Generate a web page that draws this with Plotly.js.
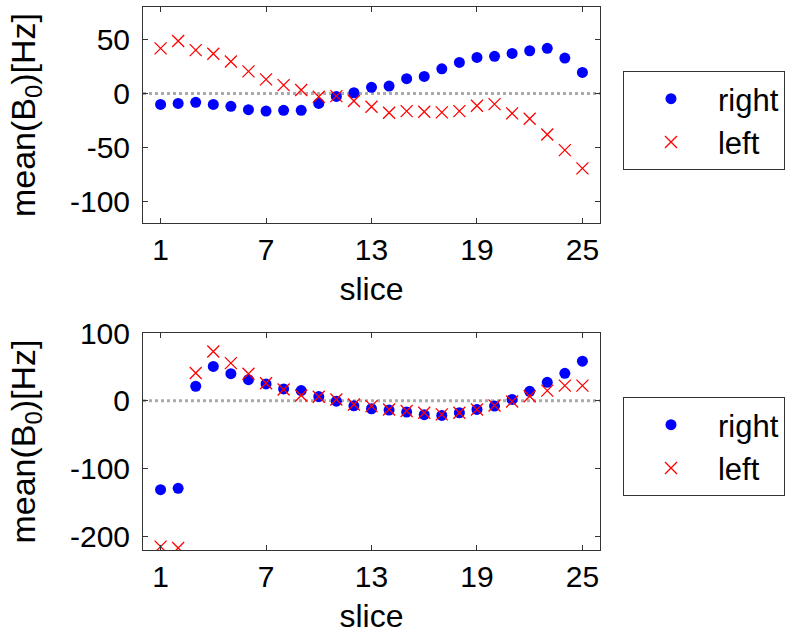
<!DOCTYPE html>
<html>
<head>
<meta charset="utf-8">
<script src="https://cdn.plot.ly/plotly-3.0.1.min.js"></script>
<style>html,body{margin:0;padding:0;background:#fff;}#chart{width:800px;height:635px;}</style>
</head>
<body>
<div id="chart"></div>
<script>
const slices = [1,2,3,4,5,6,7,8,9,10,11,12,13,14,15,16,17,18,19,20,21,22,23,24,25];
const topRight = [-10.2,-9.3,-8.3,-10.2,-12,-15.1,-16.4,-15.7,-15.7,-9.3,-2.8,0.6,5.6,6.8,13.6,15.7,22.8,28.7,33.3,34.3,37,39.5,41.7,32.7,19.4];
const topLeft = [41.7,48.5,40.1,36.7,29.6,20.4,13,7.7,3.1,-3.1,-2.5,-7.1,-12.3,-17.9,-16.4,-17,-17.6,-16.4,-11.4,-9.9,-18.5,-23.5,-38,-52.5,-69.4];
const botRight = [-131,-129,21.5,50.7,40,31.2,24.9,17.6,15.1,6.3,-0.5,-7.3,-11.7,-13.7,-16.6,-20.5,-21.5,-17.6,-12.7,-7.8,2,14.1,27.3,40.5,58.5];
const botLeft = [-215,-217,41,72.7,55.6,40,25.9,16.6,7.8,5.9,2,-5.4,-7.8,-12.7,-15.1,-17.6,-20,-17.6,-12.7,-6.8,-1,6.8,15.1,22.4,22.4];
const xTicks = [1,7,13,19,25];
const topYTicks = [-100,-50,0,50];
const botYTicks = [-200,-100,0,100];
const seriesNames = ['right','left'];

const FONT = 'Liberation Sans, Arial, sans-serif';
const dotMarker = {symbol:'circle', size:11, color:'#0000ff', line:{width:0}};
const xMarker = {symbol:'x-thin-open', size:12, color:'#ff0000', line:{width:1.3, color:'#ff0000'}};

const traces = [
  {x:slices, y:topRight, mode:'markers', name:seriesNames[0], marker:dotMarker, xaxis:'x', yaxis:'y', legend:'legend', cliponaxis:true},
  {x:slices, y:topLeft, mode:'markers', name:seriesNames[1], marker:xMarker, xaxis:'x', yaxis:'y', legend:'legend', cliponaxis:true},
  {x:slices, y:botRight, mode:'markers', name:seriesNames[0], marker:dotMarker, xaxis:'x2', yaxis:'y2', legend:'legend2', cliponaxis:true},
  {x:slices, y:botLeft, mode:'markers', name:seriesNames[1], marker:xMarker, xaxis:'x2', yaxis:'y2', legend:'legend2', cliponaxis:true}
];

function xax(anchor){
  return {anchor:anchor, range:[0,26], tickvals:xTicks, ticktext:xTicks.map(String), ticks:'inside', ticklen:5,
    tickcolor:'#333', showline:true, linecolor:'#333', linewidth:1, mirror:'ticks', showgrid:false, zeroline:false,
    tickfont:{family:FONT, size:30, color:'#000'},
    title:{text:'slice', font:{family:FONT, size:32, color:'#000'}, standoff:12}};
}
function yax(anchor, range, ticks, domain){
  return {anchor:anchor, domain:domain, range:range, tickvals:ticks, ticktext:ticks.map(String), ticks:'inside', ticklen:5,
    tickcolor:'#333', showline:true, linecolor:'#333', linewidth:1, mirror:'ticks', showgrid:false, zeroline:false,
    tickfont:{family:FONT, size:30, color:'#000'}, ticklabelstandoff:6,
    title:{text:'mean(B<sub>0</sub>)[Hz]', font:{family:FONT, size:34, color:'#000'}, standoff:24}};
}
const legendBase = {bgcolor:'#fff', bordercolor:'#333', borderwidth:1, font:{family:FONT, size:31, color:'#000'},
  xanchor:'left', yanchor:'top', itemwidth:84, tracegroupgap:0};

const layout = {
  width:800, height:635, paper_bgcolor:'#fff', plot_bgcolor:'#fff',
  margin:{l:143, r:200, t:7, b:85},
  showlegend:true,
  xaxis:Object.assign(xax('y'), {domain:[0,1]}),
  yaxis:yax('x', [-120,80], topYTicks, [0.6022,1]),
  xaxis2:Object.assign(xax('y2'), {domain:[0,1]}),
  yaxis2:yax('x2', [-220,100], botYTicks, [0,0.3996]),
  legend:Object.assign({}, legendBase, {x:1.0503, y:0.882}),
  legend2:Object.assign({}, legendBase, {x:1.0503, y:0.2818}),
  shapes:[
    {type:'line', xref:'x domain', yref:'y', x0:0, x1:1, y0:0, y1:0, line:{color:'#aaaaaa', width:3, dash:'dot'}, layer:'below'},
    {type:'line', xref:'x2 domain', yref:'y2', x0:0, x1:1, y0:0, y1:0, line:{color:'#aaaaaa', width:3, dash:'dot'}, layer:'below'}
  ]
};
Plotly.newPlot('chart', traces, layout, {displayModeBar:false, staticPlot:true});
</script>
</body>
</html>
